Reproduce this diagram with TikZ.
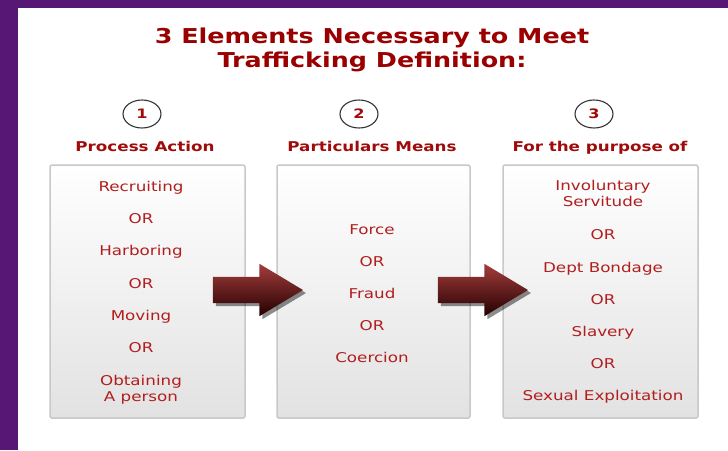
\documentclass[tikz,border=0pt]{standalone}
\usepackage{fontspec}
\setmainfont[FakeStretch=1.24]{DejaVu Sans}
\definecolor{framepurple}{RGB}{86, 24, 116}
\definecolor{titlered}{RGB}{154, 0, 0}
\definecolor{labelred}{RGB}{160, 10, 10}
\definecolor{itemred}{RGB}{178, 30, 30}
\definecolor{boxline}{RGB}{200, 200, 200}
\definecolor{boxbottom}{RGB}{226, 226, 226}
\definecolor{arrowlight}{RGB}{165, 60, 60}
\definecolor{arrowmid}{RGB}{115, 0, 0}
\definecolor{arrowdark}{RGB}{35, 0, 0}
\usetikzlibrary{shapes.geometric, shapes.arrows, shadows, positioning}

\tikzset{
  listbox/.style={draw=boxline, line width=1.5pt, rounded corners=2pt, top color=white, bottom color=boxbottom, minimum height=253pt, inner sep=0pt},
  item/.style={anchor=base, align=center, inner sep=0pt, text=itemred, font=\fontsize{13.5}{15.5}\selectfont},
  numring/.style={draw=black!80, line width=1.1pt, ellipse, minimum width=38pt, minimum height=28pt, inner sep=0pt, text=labelred, font=\fontsize{13}{15}\selectfont\bfseries},
  steplabel/.style={anchor=base, text=labelred, inner sep=0pt, font=\fontsize{13.5}{15.5}\selectfont\bfseries},
  bigarrow/.style={single arrow, minimum height=90pt, text height=13pt, text depth=13pt, single arrow head extend=13pt, single arrow tip angle=62, inner sep=0pt, top color=arrowlight, middle color=arrowmid, bottom color=arrowdark, drop shadow={shadow xshift=3pt, shadow yshift=-3pt, opacity=0.45, fill=black}}
}

\begin{document}
\begin{tikzpicture}[x=1pt, y=-1pt]
  \useasboundingbox (0,0) rectangle (728,450);
  % Frame
  \fill[framepurple] (0,0) rectangle (18,450);
  \fill[framepurple] (0,0) rectangle (728,8);

  % Title
  \node[text=titlered, align=center, font=\fontsize{20.5}{24}\selectfont\bfseries] (title) at (372, 50) {3 Elements Necessary to Meet\\Trafficking Definition:};

  % Numbers and headings
  \node[numring] (n1) at (142, 114) {1};
  \node[numring] (n2) at (359, 114) {2};
  \node[numring] (n3) at (594, 114) {3};
  \node[steplabel] (h1) at (145, 151.5) {Process Action};
  \node[steplabel] (h2) at (372, 151.5) {Particulars Means};
  \node[steplabel] (h3) at (600, 151.5) {For the purpose of};

  % Boxes
  \node[listbox, minimum width=195pt] (box1) at (147.5, 291.5) {};
  \node[listbox, minimum width=193pt] (box2) at (373.5, 291.5) {};
  \node[listbox, minimum width=195pt] (box3) at (600.5, 291.5) {};

  % Process action
  \foreach \y/\txt [count=\i] in {191/Recruiting, 223/OR, 255/Harboring, 288/OR, 320/Moving, 352/OR, 401/{Obtaining\\A person}}
    \node[item] (pa\i) at (141, \y) {\txt};

  % Means
  \foreach \y/\txt [count=\i] in {234/Force, 266/OR, 298/Fraud, 330/OR, 362/Coercion}
    \node[item] (pm\i) at (372, \y) {\txt};

  % Purpose
  \foreach \y/\txt [count=\i] in {206/{Involuntary\\Servitude}, 239/OR, 272/Dept Bondage, 304/OR, 336/Slavery, 368/OR, 400/Sexual Exploitation}
    \node[item] (pp\i) at (603, \y) {\txt};

  % Arrows
  \node[bigarrow] (arr1) at (247, 290) {};
  \node[bigarrow] (arr2) at (472, 290) {};
\end{tikzpicture}
\end{document}
